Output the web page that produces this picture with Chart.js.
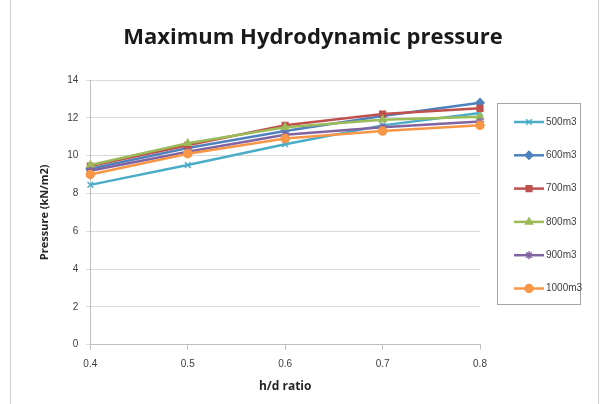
<!DOCTYPE html>
<html><head><meta charset="utf-8">
<script src="https://cdn.jsdelivr.net/npm/chart.js@4"></script>
<style>html,body{margin:0;padding:0;background:#fff}#wrap{position:relative;width:609px;height:404px}</style>
</head><body><div id="wrap"><canvas id="c" width="609" height="404"></canvas></div>
<script>
const categories = ['0.4','0.5','0.6','0.7','0.8'];
const seriesNames = ['500m3','600m3','700m3','800m3','900m3','1000m3'];
const s500  = [8.45, 9.5, 10.6, 11.6, 12.25];
const s600  = [9.3, 10.4, 11.3, 12.1, 12.8];
const s700  = [9.45, 10.55, 11.6, 12.2, 12.5];
const s800  = [9.5, 10.65, 11.5, 11.9, 12.05];
const s900  = [9.2, 10.2, 11.1, 11.5, 11.8];
const s1000 = [9.0, 10.1, 10.9, 11.3, 11.6];
const yTicks = [0,2,4,6,8,10,12,14];
const chartTitle = 'Maximum Hydrodynamic pressure';

const colors = ['#4BACC6','#4F81BD','#C0504D','#9BBB59','#8064A2','#F79646'];
const markers = ['crossRot','rectRot','rect','triangle','star','circle'];
const allSeries = [s500,s600,s700,s800,s900,s1000];

const datasets = allSeries.map((d,i)=>({
  label: seriesNames[i], data: d, borderColor: colors[i], backgroundColor: colors[i],
  borderWidth: 2.5, pointStyle: markers[i], pointRadius: 4, pointBorderWidth: 1.5, tension: 0,
  order: allSeries.length - 1 - i
}));

const frame = {
  id:'frame',
  beforeDraw(chart){
    const ctx = chart.ctx; ctx.save();
    ctx.fillStyle='#fff'; ctx.fillRect(0,0,chart.width,chart.height);
    ctx.strokeStyle='#d0d0d0'; ctx.lineWidth=1;
    ctx.strokeRect(10.5,-1,588,406);
    ctx.restore();
  },
  afterDraw(chart){
    const ctx = chart.ctx; ctx.save();
    ctx.font='bold 22px "Open Sans", sans-serif';
    ctx.fillStyle='#1a1a1a'; ctx.textAlign='center'; ctx.textBaseline='middle';
    ctx.fillText(chartTitle, 313, 38);
    const lx=497.5, ly=103.5, lw=83, lh=201;
    ctx.strokeStyle='#a6a6a6'; ctx.lineWidth=1; ctx.strokeRect(lx,ly,lw,lh);
    ctx.font='10px "Liberation Sans", Arial, sans-serif';
    ctx.textBaseline='middle'; ctx.textAlign='left';
    seriesNames.forEach((n,i)=>{
      const y = 122 + i*33.3;
      ctx.strokeStyle=colors[i]; ctx.lineWidth=2.5;
      ctx.beginPath(); ctx.moveTo(514,y); ctx.lineTo(544,y); ctx.stroke();
      ctx.fillStyle=colors[i]; ctx.strokeStyle=colors[i]; ctx.lineWidth=1.5;
      Chart.helpers.drawPoint(ctx,{pointStyle:markers[i],radius:4,rotation:0,borderWidth:1.5},529,y);
      ctx.fillStyle='#404040';
      ctx.fillText(n,546,y);
    });
    ctx.restore();
  }
};

new Chart(document.getElementById('c'),{
  type:'line',
  data:{labels:categories, datasets},
  plugins:[frame],
  options:{
    responsive:false, animation:false,
    layout:{padding:{left:34,right:129,top:80,bottom:6}},
    plugins:{
      legend:{display:false},
      tooltip:{enabled:false},
      title:{display:false}
    },
    scales:{
      x:{offset:false, grid:{display:true,drawOnChartArea:false,color:'#bfbfbf',tickLength:5},
        border:{color:'#bfbfbf'},
        ticks:{color:'#404040',font:{family:'"Liberation Sans", Arial',size:10},padding:9},
        title:{display:true,text:'h/d ratio',color:'#262626',font:{family:'"Open Sans", sans-serif',size:12,weight:'bold'},padding:{top:0}}},
      y:{min:0,max:14,
        afterBuildTicks(ax){ax.ticks = yTicks.map(v=>({value:v}));},
        grid:{color:'#d9d9d9',tickLength:4},
        border:{color:'#bfbfbf'},
        ticks:{color:'#404040',font:{family:'"Liberation Sans", Arial',size:10},padding:8},
        title:{display:true,text:'Pressure (kN/m2)',color:'#262626',font:{family:'"Open Sans", sans-serif',size:11,weight:'bold'},padding:{bottom:8}}}
    }
  }
});
</script></body></html>
